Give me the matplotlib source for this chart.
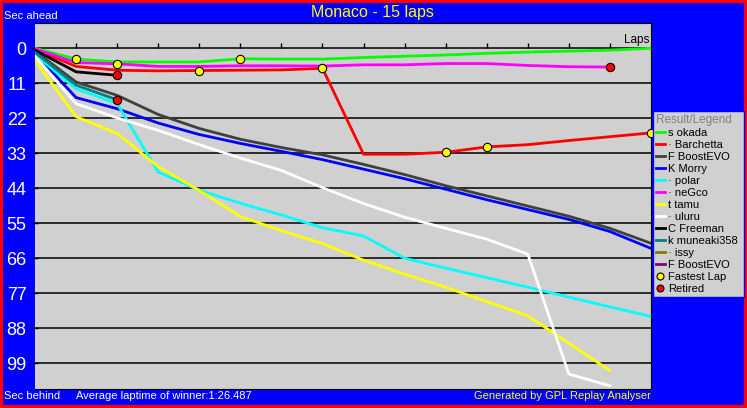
import numpy as np
import matplotlib.pyplot as plt
from matplotlib.lines import Line2D
from matplotlib.patches import Rectangle

# Dane: strata (s) wzgledem sredniego czasu okrazenia zwyciezcy, okrazenia 0..15
drivers = ['s okada', '\u00b7 Barchetta', 'F BoostEVO', 'K Morry', '\u00b7 polar', '\u00b7 neGco',
           't tamu', '\u00b7 uluru', 'C Freeman', 'k muneaki358', '\u00b7 issy', 'F BoostEVO']
colors = ['#00FF00', '#FF0000', '#404040', '#0000FF', '#00FFFF', '#FF00FF',
          '#FFFF00', '#FFFFFF', '#000000', '#008080', '#808000', '#800080']

okada = [0.0, 3.4, 4.3, 4.3, 4.3, 3.3, 3.4, 3.4, 2.9, 2.5, 2.1, 1.6, 1.2, 0.9, 0.6, 0.0]
barchetta = [0.3, 5.7, 6.9, 7.1, 7.0, 6.9, 6.8, 6.3, 33.3, 33.3, 32.7, 31.0, 30.3, 29.0, 27.8, 26.6]
boost_a = [0.9, 10.6, 14.8, 20.8, 25.2, 28.6, 31.2, 33.5, 36.5, 39.7, 43.2, 46.4, 49.6, 52.8, 56.6, 61.3]
morry = [1.6, 15.5, 19.0, 23.5, 27.1, 29.9, 32.4, 35.0, 38.0, 41.0, 44.3, 47.6, 50.7, 53.8, 57.6, 62.9]
polar = [2.0, 12.7, 17.4, 38.9, 44.6, 48.7, 52.4, 56.4, 59.0, 66.0, 69.1, 72.1, 75.1, 78.2, 81.3, 84.3]
negco = [0.2, 4.5, 4.9, 5.7, 5.7, 5.5, 5.5, 5.6, 5.2, 5.2, 4.8, 4.8, 5.4, 5.8, 5.9]
tamu = [3.8, 21.5, 26.8, 37.2, 44.7, 52.9, 57.3, 61.4, 66.6, 71.0, 75.1, 79.6, 84.1, 92.7, 101.3]
uluru = [2.5, 17.4, 21.9, 25.8, 30.3, 34.5, 38.4, 43.8, 48.8, 53.1, 56.6, 60.0, 64.7, 102.4, 106.1]
freeman = [0.6, 7.4, 8.5]
muneaki = [1.3, 11.6, 16.2]
issy = [1.0]
boost_b = [1.1]

gaps = [okada, barchetta, boost_a, morry, polar, negco, tamu, uluru, freeman, muneaki, issy, boost_b]

# (indeks kierowcy, okrazenie)
fastest_lap = [(0, 1), (5, 2), (1, 4), (0, 5), (1, 7), (1, 10), (1, 11), (1, 15)]
retired = [(8, 2), (9, 2), (5, 14)]

n_laps = 15
yticks = np.arange(0, 100, 11)

BLUE = '#0000FF'
plt.rcParams['font.family'] = ['Liberation Sans', 'DejaVu Sans']

fig = plt.figure(figsize=(7.47, 4.08), dpi=100, facecolor=BLUE)
ax = fig.add_axes([35 / 747, 19 / 408, 616 / 747, 366.5 / 408])
ax.set_facecolor('#D0D0D0')

for v in yticks:
    ax.axhline(v, color='k', lw=1.1, zorder=1)
ax.vlines(np.arange(1, n_laps), -1.6, 0, color='k', lw=1, zorder=1)

for g, c in zip(gaps, colors):
    ax.plot(np.arange(len(g)), g, color=c, lw=2, zorder=2, solid_joinstyle='miter')

for d, lap in fastest_lap:
    ax.plot(lap, gaps[d][lap], 'o', mfc='#FFFF00', mec='k', ms=6, mew=0.8, zorder=5, clip_on=False)
for d, lap in retired:
    ax.plot(lap, gaps[d][lap], 'o', mfc='#FF0000', mec='k', ms=6, mew=0.8, zorder=5)

ax.set_xlim(0, n_laps)
ax.set_ylim(107.1, -8.1)
ax.set_xticks([])
ax.set_yticks(yticks)
ax.set_yticklabels([str(v) for v in yticks], color='white', fontsize=13,
                   family=['Liberation Sans Narrow', 'Liberation Sans'])
ax.tick_params(axis='y', direction='inout', length=4, width=1, color='k', pad=4)
for s in ['top', 'right', 'bottom']:
    ax.spines[s].set_color('k')
ax.spines['left'].set_visible(False)

ax.text(14.95, -2.6, 'Laps', ha='right', va='center', fontsize=8.5, color='k')

fig.text(372 / 747, 1 - 12 / 408, 'Monaco - 15 laps', color='#FFFF00', fontsize=11.5,
         ha='center', va='center')
fig.text(4 / 747, 1 - 16 / 408, 'Sec ahead', color='white', fontsize=8, va='center')
fig.text(4 / 747, 1 - 396 / 408, 'Sec behind', color='white', fontsize=8, va='center')
fig.text(76 / 747, 1 - 396 / 408, 'Average laptime of winner:1:26.487', color='white',
         fontsize=8, va='center')
fig.text(651 / 747, 1 - 396 / 408, 'Generated by GPL Replay Analyser', color='#FFFF00',
         fontsize=8, va='center', ha='right')

handles = [Line2D([], [], color=c, lw=2) for c in colors]
handles.append(Line2D([], [], ls='none', marker='o', mfc='#FFFF00', mec='k', ms=5, mew=0.8))
handles.append(Line2D([], [], ls='none', marker='o', mfc='#FF0000', mec='k', ms=5, mew=0.8))
labels = drivers + ['Fastest Lap', 'Retired']
leg = fig.legend(handles, labels, title='Result/Legend', loc='upper left',
                 bbox_to_anchor=(653 / 747, 0, 91 / 747, 1 - 111 / 408), mode='expand',
                 bbox_transform=fig.transFigure, fontsize=8, title_fontsize=8.5,
                 frameon=True, fancybox=False, facecolor='#D0D0D0', edgecolor=BLUE,
                 framealpha=1, borderpad=0.25, labelspacing=0.18, handlelength=0.8,
                 handletextpad=0.3, borderaxespad=0, alignment='left')
leg.get_title().set_color('#808080')

fig.patches.append(Rectangle((0, 0), 1, 1, transform=fig.transFigure, fill=False,
                             edgecolor='#FF0000', lw=4.5))

plt.savefig('out.png', dpi=100, facecolor=BLUE)
